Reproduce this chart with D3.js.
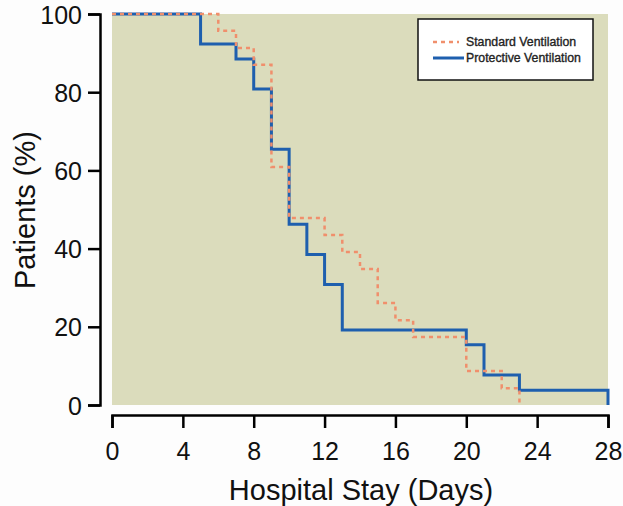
<!DOCTYPE html>
<meta charset="utf-8">
<style>

body {
  margin: 0;
  background: #fdfdfd;
}

svg {
  font-family: "Liberation Sans", Arial, sans-serif;
}

.axis path,
.axis line {
  stroke: #000;
  stroke-width: 2.5px;
}

.axis text {
  font-size: 25px;
  fill: #111;
}

.title {
  font-size: 29px;
  fill: #111;
}

.legend text {
  font-size: 12.3px;
  fill: #222;
  stroke: #222;
  stroke-width: 0.35px;
}

</style>
<body>
<script src="https://d3js.org/d3.v7.min.js"></script>
<script>

// Kaplan-Meier style steps
var protectiveDays = [0, 5, 7, 8, 9, 10, 11, 12, 13, 20, 21, 23, 28];
var protectivePct  = [100, 92.3, 88.5, 80.8, 65.4, 46.2, 38.5, 30.8, 19.2, 15.4, 7.7, 3.8, 0];

var standardDays = [0, 6, 7, 8, 9, 10, 12, 13, 14, 15, 16, 17, 20, 22, 23];
var standardPct  = [100, 95.7, 91.3, 87.0, 60.9, 47.8, 43.5, 39.1, 34.8, 26.1, 21.7, 17.4, 8.7, 4.3, 0];

var xTicks = [0, 4, 8, 12, 16, 20, 24, 28];
var yTicks = [0, 20, 40, 60, 80, 100];

var seriesNames = ["Standard Ventilation", "Protective Ventilation"];

var width = 623, height = 506;

var x = d3.scaleLinear().domain([0, 28]).range([112, 608]);
var y = d3.scaleLinear().domain([0, 100]).range([405, 14]);

var svg = d3.select("body").append("svg")
    .attr("width", width)
    .attr("height", height);

// plot background
svg.append("rect")
    .attr("x", x(0))
    .attr("y", y(100))
    .attr("width", x(28) - x(0))
    .attr("height", y(0) - y(100))
    .attr("fill", "#dbdcbc");

svg.append("g")
    .attr("class", "axis")
    .attr("transform", "translate(100,0)")
    .call(d3.axisLeft(y).tickValues(yTicks).tickSize(12).tickPadding(6))
    .selectAll("text").attr("dy", "0.36em");

svg.append("g")
    .attr("class", "axis")
    .attr("transform", "translate(0,415)")
    .call(d3.axisBottom(x).tickValues(xTicks).tickSize(13).tickPadding(14));

var line = d3.line()
    .curve(d3.curveStepAfter)
    .x(function(d) { return x(d[0]); })
    .y(function(d) { return y(d[1]); });

svg.append("path")
    .datum(d3.zip(protectiveDays, protectivePct))
    .attr("fill", "none")
    .attr("stroke", "#1e5fae")
    .attr("stroke-width", 3)
    .attr("d", line);

svg.append("path")
    .datum(d3.zip(standardDays, standardPct))
    .attr("fill", "none")
    .attr("stroke", "#f08f6c")
    .attr("stroke-width", 2.5)
    .attr("stroke-dasharray", "4,4")
    .attr("d", line);

// legend
var legend = svg.append("g").attr("class", "legend");

legend.append("rect")
    .attr("x", 418)
    .attr("y", 19)
    .attr("width", 175)
    .attr("height", 61)
    .attr("fill", "#fff")
    .attr("stroke", "#111")
    .attr("stroke-width", 1.5);

var legendStyles = [
  {stroke: "#f08f6c", dash: "4,4", w: 2.5, x2: 459},
  {stroke: "#1e5fae", dash: null, w: 3, x2: 464}
];

seriesNames.forEach(function(name, i) {
  var ly = 42 + i * 16;
  legend.append("line")
      .attr("x1", 433).attr("x2", legendStyles[i].x2)
      .attr("y1", ly).attr("y2", ly)
      .attr("stroke", legendStyles[i].stroke)
      .attr("stroke-width", legendStyles[i].w)
      .attr("stroke-dasharray", legendStyles[i].dash);
  legend.append("text")
      .attr("x", 466)
      .attr("y", ly)
      .attr("dy", "0.35em")
      .text(name);
});

svg.append("text")
    .attr("class", "title")
    .attr("x", 361)
    .attr("y", 500)
    .attr("text-anchor", "middle")
    .text("Hospital Stay (Days)");

svg.append("text")
    .attr("class", "title")
    .attr("transform", "translate(35,210) rotate(-90)")
    .attr("text-anchor", "middle")
    .text("Patients (%)");

</script>
